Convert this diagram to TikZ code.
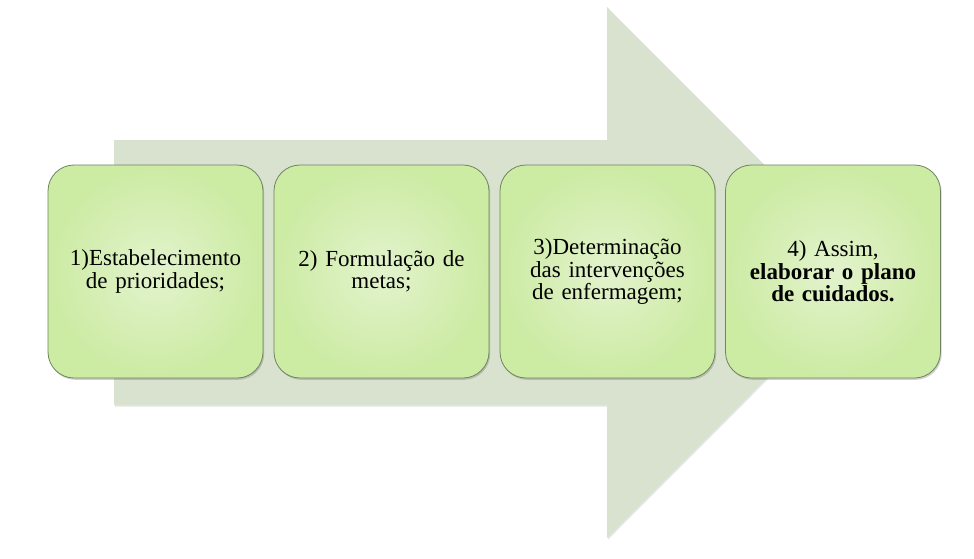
\documentclass[tikz,border=0pt]{standalone}
\usepackage{fontspec}
\setmainfont{Liberation Serif}
\usetikzlibrary{shadows}
\definecolor{arrowfill}{HTML}{D9E2CF}
\definecolor{boxin}{HTML}{E3F3CD}
\definecolor{boxout}{HTML}{CCEBA3}
\definecolor{boxline}{HTML}{6F8460}
\tikzset{
  stepbox/.style={draw=boxline, line width=0.8pt, rounded corners=26pt,
    minimum width=215pt, minimum height=213pt, inner sep=0pt,
    inner color=boxin, outer color=boxout,
    drop shadow={shadow xshift=1.2pt, shadow yshift=-1.8pt, opacity=0.3, fill=black!60},
    text width=200pt, align=center,
    font=\fontsize{23}{22.5}\selectfont},
  bigarrow/.style={fill=arrowfill,
    drop shadow={shadow xshift=1pt, shadow yshift=-1.5pt, opacity=0.25, fill=black!40}}
}
\begin{document}
\begin{tikzpicture}[x=1pt,y=-1pt]
\useasboundingbox (0,0) rectangle (974,558);
\fill[white] (0,0) rectangle (974,558);
\path[bigarrow] (114,140) -- (607,140) -- (607,7) -- (872,272.5) -- (607,538) -- (607,405) -- (114,405) -- cycle;
\node[stepbox] (b1) at (155.5,271.5) {1)Estabelecimento\\de prioridades;};
\node[stepbox] (b2) at (381.5,271.5) {2) Formulação de\\metas;};
\node[stepbox] (b3) at (607.5,271.5) {3)Determinação\\das intervenções\\de enfermagem;};
\node[stepbox] (b4) at (833,271.5) {4) Assim,\\\textbf{elaborar o plano}\\\textbf{de cuidados.}};
\end{tikzpicture}
\end{document}
